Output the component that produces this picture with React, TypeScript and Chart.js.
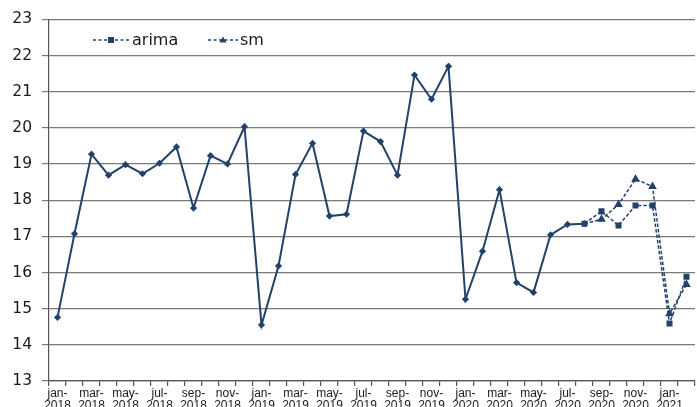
import React, { useEffect, useRef } from "react";
import { Chart, registerables } from "chart.js";

Chart.register(...registerables);

const categories = [
  "jan-2018", "feb-2018", "mar-2018", "apr-2018", "may-2018", "jun-2018",
  "jul-2018", "aug-2018", "sep-2018", "oct-2018", "nov-2018", "dec-2018",
  "jan-2019", "feb-2019", "mar-2019", "apr-2019", "may-2019", "jun-2019",
  "jul-2019", "aug-2019", "sep-2019", "oct-2019", "nov-2019", "dec-2019",
  "jan-2020", "feb-2020", "mar-2020", "apr-2020", "may-2020", "jun-2020",
  "jul-2020", "aug-2020", "sep-2020", "oct-2020", "nov-2020", "dec-2020",
  "jan-2021", "feb-2021",
];

const actualValues = [
  14.76, 17.07, 19.27, 18.69, 18.98, 18.73, 19.02, 19.47, 17.78, 19.23, 19.0, 20.03,
  14.55, 16.18, 18.71, 19.57, 17.56, 17.61, 19.91, 19.62, 18.69, 21.46, 20.79, 21.7,
  15.26, 16.59, 18.29, 15.72, 15.45, 17.04, 17.33, 17.35,
];

const arimaForecast = [17.69, 17.3, 17.85, 17.85, 14.59, 15.88];
const smForecast = [17.47, 17.88, 18.58, 18.38, 14.86, 15.67];

const legendLabels = ["arima", "sm"];
const yTicks = { min: 13, max: 23, step: 1 };

const COLOR = "#22426a";

export default function App() {
  const canvasRef = useRef<HTMLCanvasElement | null>(null);

  useEffect(() => {
    document.body.style.margin = "0";
    const canvas = canvasRef.current;
    if (!canvas) return;

    const n = categories.length;
    const lastActual = actualValues.length - 1;
    const actualData = [...actualValues, ...Array(n - actualValues.length).fill(null)];
    const arimaData = [
      ...Array(lastActual).fill(null),
      actualValues[lastActual],
      ...arimaForecast,
    ];
    const smData = [
      ...Array(lastActual).fill(null),
      actualValues[lastActual],
      ...smForecast,
    ];

    const legendPlugin = {
      id: "customLegend",
      afterDraw(chart: any) {
        const ctx = chart.ctx;
        ctx.save();
        const y = 40;
        const items = [
          { x0: 93, x1: 129, tx: 132, style: "rect", label: legendLabels[0] },
          { x0: 208, x1: 238, tx: 240, style: "tri", label: legendLabels[1] },
        ];
        for (const it of items) {
          ctx.strokeStyle = COLOR;
          ctx.lineWidth = 1.3;
          ctx.setLineDash([3, 2.5]);
          ctx.beginPath();
          ctx.moveTo(it.x0, y);
          ctx.lineTo(it.x1, y);
          ctx.stroke();
          ctx.setLineDash([]);
          ctx.fillStyle = COLOR;
          const cx = (it.x0 + it.x1) / 2;
          if (it.style === "rect") {
            ctx.fillRect(cx - 3, y - 3, 6, 6);
          } else {
            ctx.beginPath();
            ctx.moveTo(cx, y - 3.5);
            ctx.lineTo(cx + 3.5, y + 2.5);
            ctx.lineTo(cx - 3.5, y + 2.5);
            ctx.closePath();
            ctx.fill();
          }
          ctx.fillStyle = "#1a1a1a";
          ctx.font = "16px 'DejaVu Sans'";
          ctx.textBaseline = "middle";
          ctx.textAlign = "left";
          ctx.fillText(it.label, it.tx, y + 1);
        }
        ctx.restore();
      },
    };

    const chart = new Chart(canvas, {
      type: "line",
      data: {
        labels: categories,
        datasets: [
          {
            label: "sm",
            data: smData,
            borderColor: COLOR,
            backgroundColor: COLOR,
            borderWidth: 1.5,
            borderDash: [3.5, 2],
            pointStyle: "triangle",
            pointRadius: (c: any) => (c.dataIndex === lastActual ? 0 : 3.5),
            tension: 0,
            spanGaps: false,
          },
          {
            label: "arima",
            data: arimaData,
            borderColor: COLOR,
            backgroundColor: COLOR,
            borderWidth: 1.5,
            borderDash: [3.5, 2],
            pointStyle: "rect",
            pointRadius: 3.2,
            tension: 0,
            spanGaps: false,
          },
          {
            label: "actual",
            data: actualData,
            borderColor: COLOR,
            backgroundColor: COLOR,
            borderWidth: 2,
            pointStyle: "rectRot",
            pointRadius: 2.2,
            tension: 0,
            spanGaps: false,
          },
        ],
      },
      options: {
        animation: false,
        responsive: true,
        maintainAspectRatio: false,
        layout: { padding: { top: 19, right: 0, left: 0, bottom: 0 } },
        plugins: {
          legend: { display: false },
          tooltip: { enabled: false },
        },
        scales: {
          x: {
            type: "category",
            offset: true,
            afterFit: (s: any) => {
              s.height = 26;
            },
            border: { display: true, color: "#555", width: 1.2 },
            grid: {
              display: true,
              offset: true,
              drawOnChartArea: false,
              drawTicks: true,
              tickLength: 5,
              color: "#555",
              lineWidth: 1.2,
            },
            ticks: {
              autoSkip: false,
              maxRotation: 0,
              minRotation: 0,
              padding: 2,
              color: "#1a1a1a",
              font: { family: "'Liberation Sans', Arial", size: 12, lineHeight: 1.0 },
              callback: (_v: any, i: number) => {
                if (i % 2 !== 0) return "";
                const [m, y] = categories[i].split("-");
                return [m + "-", y];
              },
            },
          },
          y: {
            min: yTicks.min,
            max: yTicks.max,
            afterFit: (s: any) => {
              s.width = 49;
            },
            border: { display: true, color: "#555", width: 1.2 },
            grid: {
              color: "#7a7a7a",
              lineWidth: 1.2,
              tickLength: 7,
            },
            ticks: {
              stepSize: yTicks.step,
              padding: 10,
              color: "#1a1a1a",
              font: { family: "'DejaVu Sans'", size: 15.5 },
            },
          },
        },
      },
      plugins: [legendPlugin],
    });

    return () => chart.destroy();
  }, []);

  return (
    <div
      style={{
        position: "absolute",
        left: 0,
        top: 0,
        width: 697,
        height: 407,
        overflow: "hidden",
        background: "#fff",
      }}
    >
      <div style={{ position: "relative", width: 701, height: 407 }}>
        <canvas ref={canvasRef} />
      </div>
    </div>
  );
}
